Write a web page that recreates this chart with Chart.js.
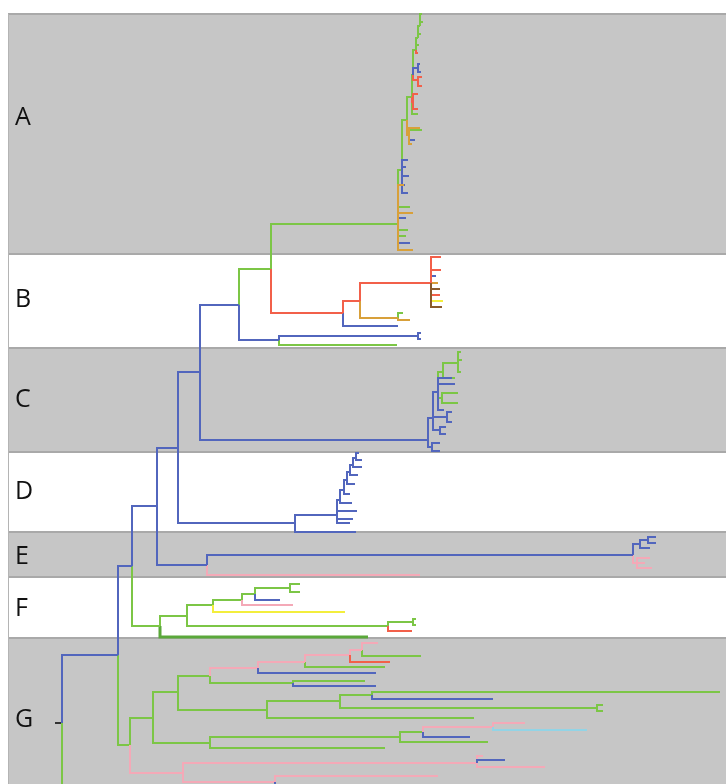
<!DOCTYPE html>
<html>
<head>
<meta charset="utf-8">
<script src="https://cdn.jsdelivr.net/npm/chart.js@4"></script>
<style>
  html, body { margin: 0; padding: 0; background: #ffffff; }
  #arbol { display: block; }
</style>
</head>
<body>
<canvas id="arbol" width="726" height="784"></canvas>
<script>
// Clade bands (y in tree units, top to bottom)
var bandLabels = ['A', 'B', 'C', 'D', 'E', 'F', 'G'];
var bandTop = [14, 254, 348, 452, 532, 577, 638];
var bandBottom = [254, 348, 452, 532, 577, 638, 784];
var bandShaded = [true, false, true, false, true, false, true];
var labelY = [118, 300, 400, 492, 557, 609, 720];

// Branches: [parentX, parentY, childX, childY], drawn as an elbow in the child's colour
var rootBranches = [[55, 723, 62, 723]];

var blueBranches = [
  [62, 723, 118, 655], [118, 655, 132, 566], [132, 566, 157, 506],
  [157, 506, 178, 448], [157, 506, 207, 565], [178, 448, 200, 372],
  [178, 448, 295, 523], [200, 372, 239, 305], [200, 372, 428, 440],
  [239, 305, 279, 340], [279, 340, 418, 336], [418, 336, 421, 333], [418, 336, 421, 339],
  [343, 313, 398, 326], [431, 283, 436, 276],
  [398, 224, 406, 218], [398, 224, 410, 243],
  [402, 170, 408, 160], [402, 170, 406, 167], [402, 170, 409, 176], [402, 170, 405, 185], [402, 170, 408, 193],
  [409, 135, 415, 140], [413, 75, 418, 68], [418, 68, 420, 64], [418, 68, 421, 72],
  [428, 440, 433, 418], [428, 440, 432, 447], [432, 447, 440, 443], [432, 447, 440, 451],
  [433, 418, 438, 392], [433, 418, 440, 430], [440, 430, 446, 427], [440, 430, 446, 434],
  [433, 418, 447, 417], [447, 417, 452, 412], [447, 417, 452, 422],
  [438, 392, 455, 384], [438, 392, 452, 378], [438, 392, 444, 410],
  [295, 523, 337, 515], [295, 523, 356, 532],
  [337, 515, 350, 523], [337, 515, 353, 519], [337, 515, 357, 511], [337, 515, 340, 500],
  [340, 500, 344, 490], [340, 500, 352, 503], [344, 490, 347, 480], [344, 490, 350, 494],
  [347, 480, 350, 472], [347, 480, 355, 484], [350, 472, 353, 465], [350, 472, 358, 475],
  [353, 465, 356, 458], [353, 465, 362, 467], [356, 458, 359, 453], [356, 458, 362, 460],
  [207, 565, 633, 555], [633, 555, 640, 544], [640, 544, 650, 548], [640, 544, 648, 540],
  [648, 540, 656, 537], [648, 540, 656, 543],
  [255, 594, 280, 600],
  [258, 668, 376, 673], [293, 683, 376, 686], [372, 695, 493, 699],
  [423, 732, 470, 737], [477, 763, 505, 760], [275, 782, 280, 790]
];

var greenBranches = [
  [62, 723, 62, 800], [118, 655, 130, 745], [132, 566, 160, 626],
  [239, 305, 271, 269], [271, 269, 398, 224], [279, 340, 397, 345], [398, 318, 403, 313],
  [398, 224, 402, 170], [398, 224, 410, 207], [398, 224, 408, 230], [398, 224, 406, 236],
  [402, 170, 407, 120], [407, 120, 412, 97], [409, 135, 422, 130],
  [412, 97, 413, 75], [412, 97, 418, 114], [413, 75, 416, 50],
  [416, 50, 418, 38], [418, 38, 420, 26], [420, 26, 422, 14],
  [416, 50, 419, 45], [418, 38, 421, 34], [420, 26, 423, 22],
  [438, 392, 443, 372], [443, 372, 458, 363], [458, 363, 461, 352], [458, 363, 462, 360],
  [458, 363, 461, 372], [443, 372, 455, 378],
  [438, 392, 442, 398], [442, 398, 458, 393], [442, 398, 458, 403],
  [160, 626, 187, 616], [187, 616, 213, 605], [187, 616, 388, 626], [213, 605, 242, 600],
  [242, 600, 255, 594], [255, 594, 290, 588], [290, 588, 300, 584], [290, 588, 300, 592],
  [388, 626, 413, 622], [413, 622, 416, 619], [413, 622, 416, 625],
  [130, 745, 153, 718], [153, 718, 178, 692], [153, 718, 210, 743], [178, 692, 210, 676],
  [178, 692, 267, 710], [210, 676, 293, 683], [305, 662, 385, 667], [362, 650, 421, 656],
  [293, 683, 365, 681], [267, 710, 340, 701], [267, 710, 474, 718], [340, 701, 372, 695],
  [340, 701, 597, 708], [597, 708, 603, 705], [597, 708, 603, 711], [372, 695, 720, 692],
  [210, 743, 400, 737], [210, 743, 385, 748], [400, 737, 423, 732], [400, 737, 488, 742]
];

var redBranches = [
  [271, 269, 343, 313], [343, 313, 360, 301], [360, 301, 431, 283],
  [431, 283, 441, 257], [431, 283, 441, 270], [431, 283, 440, 295],
  [412, 97, 413, 102], [413, 102, 418, 94], [413, 102, 418, 109],
  [413, 75, 418, 80], [418, 80, 422, 77], [418, 80, 422, 86], [416, 50, 418, 53],
  [388, 626, 412, 631], [350, 655, 390, 662]
];

var orangeBranches = [
  [360, 301, 398, 318], [398, 318, 410, 320], [431, 283, 438, 283],
  [398, 224, 413, 213], [398, 224, 413, 250], [398, 224, 404, 185],
  [407, 120, 409, 135], [409, 135, 420, 128], [409, 135, 412, 144]
];

var brownBranches = [[431, 283, 440, 289], [431, 283, 442, 307]];
var yellowBranches = [[431, 283, 443, 301], [213, 605, 345, 612]];

var pinkBranches = [
  [207, 565, 420, 575], [633, 555, 637, 563], [637, 563, 650, 558], [637, 563, 645, 563], [637, 563, 652, 568],
  [242, 600, 293, 605],
  [210, 676, 258, 668], [258, 668, 305, 662], [305, 662, 350, 655], [350, 655, 362, 650], [362, 650, 378, 643],
  [423, 732, 493, 727], [493, 727, 525, 723],
  [130, 745, 183, 773], [183, 773, 477, 763], [183, 773, 275, 782],
  [477, 763, 483, 756], [477, 763, 545, 767], [275, 782, 438, 776]
];

var cyanBranches = [[493, 727, 587, 730]];
var darkGreenBranches = [[160, 626, 368, 637]];

function elbows(branches) {
  var pts = [];
  branches.forEach(function (b) {
    pts.push({ x: b[0], y: b[1] });
    pts.push({ x: b[0], y: b[3] });
    pts.push({ x: b[2], y: b[3] });
    pts.push({ x: null, y: null });
  });
  return pts;
}

function serie(branches, color, width) {
  return {
    data: elbows(branches),
    borderColor: color,
    backgroundColor: color,
    borderWidth: width || 2,
    showLine: true,
    spanGaps: false,
    pointRadius: 0,
    tension: 0,
  };
}

var bandas = {
  id: 'bandas',
  beforeDatasetsDraw: function (chart) {
    var ctx = chart.ctx;
    var x = chart.scales.x;
    var y = chart.scales.y;
    var left = x.getPixelForValue(8);
    var right = x.getPixelForValue(726);
    ctx.save();
    bandLabels.forEach(function (lab, i) {
      var top = y.getPixelForValue(bandTop[i]);
      var bot = y.getPixelForValue(bandBottom[i]);
      if (bandShaded[i]) {
        ctx.fillStyle = '#c6c6c6';
        ctx.fillRect(left, top, right - left, bot - top);
      }
    });
    ctx.strokeStyle = '#a9a9a9';
    ctx.lineWidth = 2;
    bandTop.forEach(function (t) {
      var py = y.getPixelForValue(t);
      ctx.beginPath();
      ctx.moveTo(left, py);
      ctx.lineTo(right, py);
      ctx.stroke();
    });
    ctx.strokeStyle = '#b4b4b4';
    ctx.lineWidth = 1;
    ctx.beginPath();
    ctx.moveTo(left + 0.5, y.getPixelForValue(14));
    ctx.lineTo(left + 0.5, y.getPixelForValue(784));
    ctx.stroke();
    ctx.fillStyle = '#111111';
    ctx.font = '25px "Open Sans", "Noto Sans", sans-serif';
    ctx.textAlign = 'left';
    ctx.textBaseline = 'middle';
    bandLabels.forEach(function (lab, i) {
      ctx.fillText(lab, x.getPixelForValue(15), y.getPixelForValue(labelY[i]));
    });
    ctx.restore();
  },
};

new Chart(document.getElementById('arbol').getContext('2d'), {
  type: 'scatter',
  data: {
    datasets: [
      serie(brownBranches, '#8a5a2b'),
      serie(redBranches, '#f2604a'),
      serie(yellowBranches, '#f3ee3c'),
      serie(cyanBranches, '#92d4e6'),
      serie(orangeBranches, '#d8a03a'),
      serie(blueBranches, '#5266bd'),
      serie(pinkBranches, '#f4a9b7'),
      serie(greenBranches, '#7cc646'),
      serie(darkGreenBranches, '#5aa83a', 3),
      serie(rootBranches, '#333333'),
    ],
  },
  options: {
    responsive: false,
    animation: false,
    devicePixelRatio: 1,
    layout: { padding: 0 },
    plugins: { legend: { display: false }, tooltip: { enabled: false } },
    scales: {
      x: { type: 'linear', min: 0, max: 726, display: false },
      y: { type: 'linear', min: 0, max: 784, reverse: true, display: false },
    },
  },
  plugins: [bandas],
});
</script>
</body>
</html>
